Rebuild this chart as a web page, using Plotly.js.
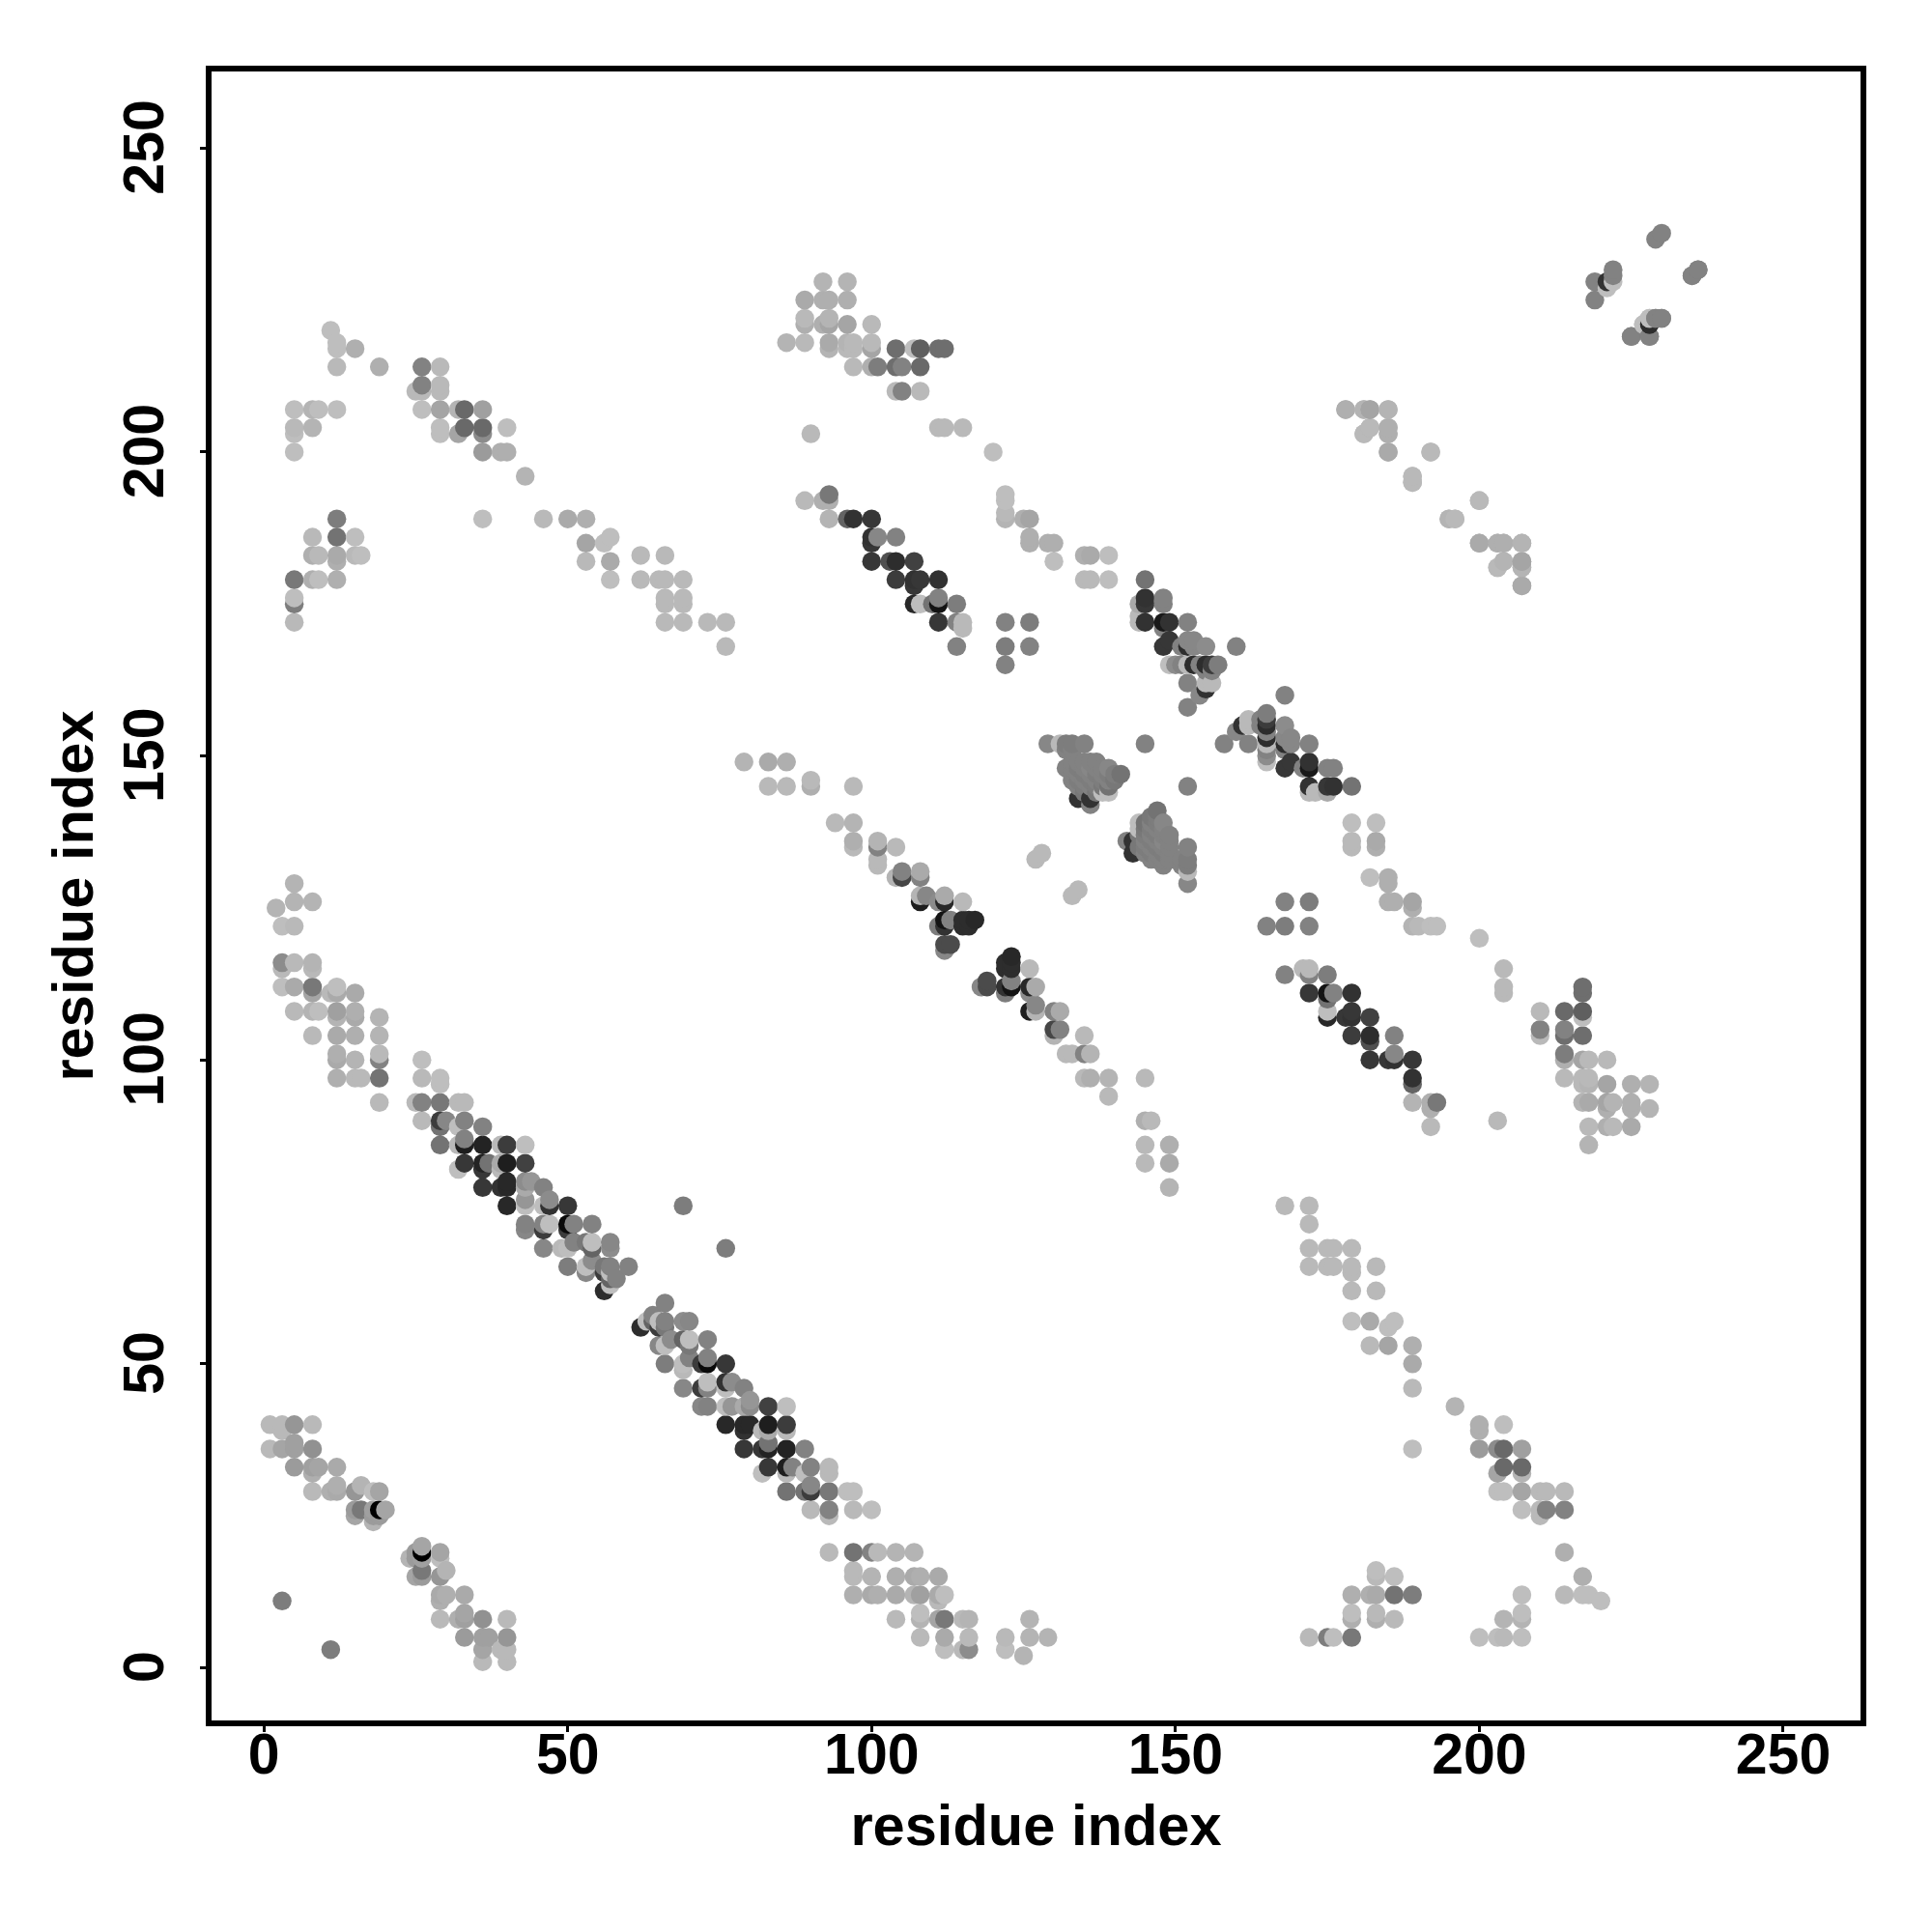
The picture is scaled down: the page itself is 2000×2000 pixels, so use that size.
<!DOCTYPE html>
<html>
<head>
<meta charset="utf-8">
<script src="https://cdn.plot.ly/plotly-3.0.1.min.js"></script>
<style>html,body{margin:0;padding:0;background:#fff}</style>
</head>
<body>
<div id="chart" style="width:2000px;height:2000px"></div>
<script>
// Contacts [residue i, residue j, grey level], upper triangle only; the map is symmetric.
const nearTerminus = [
[1,40,185],[3,40,185],[5,40,150],[8,40,185],[3,39,185],[5,37,160],[1,36,185],[3,36,165],[5,36,160],[8,36,145],
[5,33,155],[8,33,160],[9,33,165],[12,33,170],[8,32,175],[8,29,185],[11,29,175],[12,29,170],[12,30,175],[15,29,150],
[16,30,180],[18,29,190],[19,29,165],[15,26,155],[16,26,120],[18,26,160],[19,26,0],[20,26,165],[15,25,165],[18,25,155],
[19,25,155],[18,24,180],[3,11,125]
];
const topLeftA = [
[11,220,190],[12,218,190],[12,217,190],[15,217,175],[12,214,185],[19,214,175],[26,214,130],[29,214,185],[26,211,130],
[29,211,185],[29,210,185],[25,210,185],[26,210,185],[5,207,190],[8,207,180],[9,207,190],[12,207,190],[26,207,190],
[29,207,165],[32,207,180],[33,207,105],[36,207,160],[5,204,185],[8,204,180],[29,204,190],[33,204,105],[36,204,105],
[40,204,190],[5,203,190],[29,203,190],[32,203,165],[36,203,140],[5,200,190],[36,200,155],[39,200,175],[40,200,175],
[43,196,180],[12,189,125],[36,189,190],[46,189,185],[50,189,170],[53,189,175],[8,186,185],[12,186,115],[15,186,190],
[57,186,190],[53,185,165],[56,185,190],[8,183,175],[9,183,185],[12,183,170],[15,183,185],[16,183,190],[12,182,175],
[53,182,185],[57,182,170],[62,183,185],[66,183,185],[5,179,120],[8,179,175],[9,179,190],[12,179,175],[57,179,190],
[62,179,185],[65,179,185],[66,179,185],[69,179,185],[5,176,190],[5,175,125],[66,176,185],[66,175,185],[69,176,185],
[69,175,185],[5,172,185],[66,172,185],[69,172,185],[73,172,185],[76,172,185],[76,168,185]
];
const topLeftB = [
[5,129,180],[5,126,180],[8,126,180],[2,125,180],[3,122,190],[5,122,185],[3,116,140],[5,116,185],[8,116,180],[3,115,185],
[8,115,185],[3,112,190],[5,112,170],[8,112,120],[12,112,190],[8,111,165],[11,111,185],[12,111,170],[15,111,170],
[5,108,185],[8,108,180],[9,108,190],[12,108,160],[15,108,175],[12,107,180],[15,107,170],[19,107,180],[8,104,185],
[12,104,170],[15,104,175],[19,104,180],[12,101,175],[19,101,185],[12,100,170],[15,100,180],[19,100,130],[12,97,175],
[15,97,185],[16,97,185],[19,97,115],[19,93,185]
];
const mainBand = [
[26,100,190],[26,97,185],[29,97,190],[29,96,190],[25,93,185],[26,93,130],[29,93,120],[32,93,185],[33,93,185],
[26,90,185],[29,90,60],[30,90,135],[33,90,130],[29,89,115],[32,89,190],[36,89,130],[29,86,115],[32,86,185],[33,86,30],
[33,87,130],[36,86,35],[39,86,185],[40,86,60],[43,86,190],[33,83,55],[36,83,35],[37,83,115],[39,83,170],[40,83,30],
[43,83,65],[32,82,190],[36,82,55],[39,82,185],[40,80,40],[43,80,140],[44,80,150],[36,79,55],[39,79,50],[40,79,40],
[43,79,170],[46,79,130],[40,76,40],[43,77,150],[43,76,190],[46,76,190],[47,77,140],[47,76,50],[50,76,55],[43,73,130],
[43,72,135],[46,73,130],[47,73,190],[46,72,60],[50,73,10],[51,73,130],[54,73,130],[50,72,60],[46,69,135],[49,69,185],
[50,69,190],[51,70,130],[53,70,120],[54,70,190],[54,69,100],[57,70,135],[57,69,140],[50,66,125],[53,66,190],[54,67,140],
[53,65,135],[57,66,130],[56,66,120],[60,66,130],[58,64,130],[57,65,190],[56,65,60],[56,62,45],[57,63,190],[57,64,100],
[69,76,125]
];
const topCentre = [
[92,228,180],[96,228,180],[89,225,170],[92,225,175],[93,225,175],[96,225,175],[89,222,185],[93,222,180],[89,221,175],
[92,221,175],[93,221,165],[96,221,165],[100,221,185],[86,218,180],[89,218,185],[93,218,170],[96,218,180],[97,218,185],
[100,218,185],[93,217,180],[96,217,185],[97,217,185],[100,217,165],[104,217,110],[107,217,190],[108,217,95],[111,217,110],
[112,217,110],[97,214,185],[100,214,175],[101,214,125],[104,214,110],[105,214,130],[108,214,105],[104,210,185],
[105,210,130],[108,210,185],[111,204,185],[112,204,185],[115,204,185],[90,203,185],[120,200,190],[93,193,120],[122,193,190],
[89,192,185],[92,192,175],[93,192,175],[122,192,190],[122,190,185],[93,189,180],[96,189,100],[97,189,50],[100,189,55],
[122,189,180],[125,189,175],[126,189,165],[100,186,50],[101,186,135],[104,186,130],[126,186,175],[100,185,55],[126,185,175],
[129,185,175],[130,185,175],[100,182,55],[103,182,80],[104,182,45],[107,182,65],[130,182,190],[135,183,175],[136,183,170],
[139,183,190],[104,179,60],[107,179,50],[108,179,55],[111,179,50],[135,179,185],[136,179,185],[139,179,190],[107,178,55],
[107,175,40],[108,175,190],[110,175,115],[111,175,20],[111,176,130],[114,175,125],[111,172,55],[114,172,130],[115,172,185],
[122,172,130],[126,172,125],[115,171,185],[114,168,130],[122,168,125],[126,168,130],[122,165,130]
];
const rightBandA = [
[145,179,115],[144,175,170],[145,176,50],[145,175,55],[148,176,130],[148,175,130],[144,172,185],[145,172,50],[148,172,25],
[149,172,50],[152,172,130],[148,171,130],[149,169,55],[152,169,135],[153,169,135],[148,168,55],[151,168,130],[152,168,45],
[153,168,135],[155,168,140],[160,168,130],[149,165,190],[150,165,140],[151,165,130],[152,165,185],[153,165,45],[154,165,130],
[155,165,45],[156,165,60],[157,165,125],[156,164,130],[155,164,130],[152,162,130],[155,162,185],[156,162,185],[155,161,50],
[154,160,135],[152,158,130],[145,152,130],[144,173,185]
];
const centreCluster = [
[129,152,135],[131,152,185],[132,152,125],[133,152,125],[135,152,130],[132,151,130],[133,151,130],[133,149,130],[134,149,130],
[135,149,130],[136,149,130],[137,149,130],[132,148,130],[133,148,130],[134,148,125],[135,148,130],[136,148,135],[137,148,130],
[138,148,130],[139,148,135],[133,147,130],[134,147,130],[135,147,125],[136,147,130],[137,147,125],[138,147,130],[139,147,125],
[140,147,125],[141,147,115],[133,146,130],[134,146,125],[135,146,130],[136,146,125],[137,146,130],[138,146,125],[139,146,130],
[140,146,120],[134,145,130],[135,145,125],[136,145,130],[137,145,125],[138,145,120],[139,145,115],[134,143,50],[135,144,120],
[136,143,50],[137,144,120],[138,144,190],[139,144,190],[136,142,130],[127,133,185],[128,134,185]
];
const middleBand = [
[79,149,180],[83,149,170],[86,149,175],[83,145,185],[86,145,185],[90,146,185],[90,145,175],[97,145,185],[94,139,185],[97,139,180],
[97,136,175],[97,135,185],[101,136,180],[101,135,130],[101,133,185],[101,132,185],[104,135,185],[104,130,180],[105,131,130],
[105,130,70],[108,131,170],[108,130,130],[108,126,30],[108,127,180],[109,127,135],[111,126,140],[112,127,170],[112,126,40],
[115,126,185],[111,122,125],[112,123,20],[113,123,130],[112,122,50],[115,122,45],[115,123,45],[116,122,45],[116,123,45],
[117,123,40],[112,119,75],[113,119,75],[112,118,135]
];
const rightEdge = [
[178,207,170],[181,207,180],[182,207,165],[185,207,180],[182,204,180],[181,203,185],[185,204,175],[185,203,175],[185,200,170],
[192,200,185],[189,196,185],[189,195,180],[200,192,185],[195,189,185],[196,189,185],[200,185,170],[203,185,175],[204,185,175],
[207,185,180],[204,182,185],[203,181,185],[207,182,165],[207,181,180],[207,178,175],[229,235,130],[230,236,130],[219,228,130],
[219,225,130],[221,228,50],[221,227,190],[222,230,130],[222,229,130],[222,228,190]
];
const farCorner = [
[235,229,130],[236,230,130],[225,219,130],[228,219,130],[227,221,190],[228,222,190],[228,221,45],[229,222,130],[230,222,130]
];
const xTicks = [0, 50, 100, 150, 200, 250];
const yTicks = [0, 50, 100, 150, 200, 250];
const axisName = "residue index";

const upper = [].concat(nearTerminus, topLeftA, topLeftB, mainBand, topCentre, rightBandA, centreCluster, middleBand, rightEdge);
const mirrored = upper.map(p => [p[1], p[0], p[2]]);
const all = upper.concat(mirrored, farCorner).sort((a, b) => a[0] - b[0] || a[1] - b[1]);

const fontFamily = '"Liberation Sans", Arial, sans-serif';
const axisCommon = {
  zeroline: false, showgrid: false, autorange: false,
  showline: true, mirror: true, linecolor: '#000', linewidth: 6,
  ticks: 'outside', ticklen: 6, tickwidth: 3, tickcolor: '#000',
  tickfont: {family: fontFamily, size: 59, color: '#000', weight: 700}
};
Plotly.newPlot('chart', [{
  type: 'scatter', mode: 'markers',
  x: all.map(p => p[0]), y: all.map(p => p[1]),
  marker: {size: 19.5, line: {width: 0},
    color: all.map(p => 'rgb(' + p[2] + ',' + p[2] + ',' + p[2] + ')')},
  hoverinfo: 'skip'
}], {
  width: 2000, height: 2000, showlegend: false,
  paper_bgcolor: '#fff', plot_bgcolor: '#fff',
  margin: {l: 218.5, r: 74, t: 74, b: 218.8, pad: 0},
  xaxis: Object.assign({}, axisCommon, {
    range: [-8.61, 262.72],
    tickmode: 'array', tickvals: xTicks, ticktext: xTicks.map(String), tickangle: 0,
    ticklabelstandoff: -28,
    title: {text: '<b>' + axisName + '</b>', standoff: 22, font: {family: fontFamily, size: 59.6, color: '#000'}}
  }),
  yaxis: Object.assign({}, axisCommon, {
    range: [-8.66, 262.6],
    tickmode: 'array', tickvals: yTicks, ticktext: yTicks.map(String), tickangle: -90,
    ticklabelstandoff: 14, ticklabelshift: 8,
    title: {text: '<b>' + axisName + '</b>', standoff: 3, font: {family: fontFamily, size: 59.6, color: '#000'}}
  })
}, {displayModeBar: false, staticPlot: true});
</script>
</body>
</html>
